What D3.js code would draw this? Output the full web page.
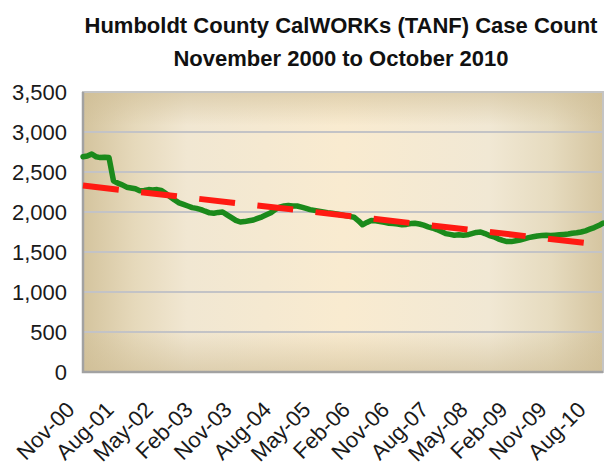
<!DOCTYPE html>
<html>
<head>
<meta charset="utf-8">
<script src="https://cdn.jsdelivr.net/npm/d3@7"></script>
<style>
  html, body { margin: 0; padding: 0; background: #ffffff; }
  svg { display: block; font-family: "Liberation Sans", Arial, sans-serif; }
</style>
</head>
<body>
<div id="chart"></div>
<script>
// Humboldt County CalWORKs (TANF) case count, monthly, Nov 2000 - Oct 2010

const titleLines = ["Humboldt County CalWORKs (TANF) Case Count", "November 2000 to October 2010"];

// x-axis labels (every 9th month)
const tickLabels = ["Nov-00", "Aug-01", "May-02", "Feb-03", "Nov-03", "Aug-04", "May-05",
    "Feb-06", "Nov-06", "Aug-07", "May-08", "Feb-09", "Nov-09", "Aug-10"];

// y-axis ticks
const yTicks = [0, 500, 1000, 1500, 2000, 2500, 3000, 3500];

// monthly case count (120 months)
const caseCount = [
    2690, 2700, 2725, 2690, 2680, 2685, 2680, 2390, 2360, 2340,   // Nov-00 ..
    2310, 2300, 2290, 2265, 2270, 2280, 2275, 2280, 2270, 2230,
    2190, 2150, 2115, 2095, 2075, 2055, 2045, 2030, 2010, 1990,
    1985, 1995, 2000, 1965, 1930, 1895, 1875, 1880, 1890, 1900,
    1920, 1940, 1965, 1990, 2030, 2060, 2075, 2080, 2075, 2075,
    2060, 2045, 2030, 2020, 2010, 2000, 1990, 1985, 1975, 1965,
    1955, 1945, 1935, 1890, 1840, 1870, 1895, 1890, 1880, 1870,
    1860, 1855, 1850, 1840, 1845, 1855, 1860, 1850, 1835, 1815,
    1800, 1780, 1755, 1730, 1720, 1710, 1715, 1710, 1715, 1730,
    1745, 1750, 1730, 1705, 1690, 1665, 1645, 1630, 1630, 1640,
    1650, 1665, 1680, 1690, 1700, 1705, 1710, 1705, 1710, 1715,
    1720, 1725, 1735, 1740, 1750, 1765, 1785, 1805, 1830, 1860    // .. Oct-10
];

// linear trend line, value at first and last month
const trendEnds = [2330, 1588];

const width = 604, height = 471;
const plot = { left: 83, right: 603, top: 92, bottom: 372 };

const months = d3.timeMonths(new Date(2000, 10, 1), new Date(2010, 10, 1));
const parseLabel = d3.timeParse("%b-%y");

const x = d3.scaleTime()
    .domain([months[0], months[months.length - 1]])
    .range([plot.left, plot.right]);

const y = d3.scaleLinear()
    .domain([0, 3500])
    .range([plot.bottom, plot.top]);

const svg = d3.select('#chart')
    .append('svg')
    .attr('width', width)
    .attr('height', height);

// gradients for the parchment-like plot area
const defs = svg.append('defs');
const hGrad = defs.append('linearGradient').attr('id', 'bgH')
    .attr('x1', '0%').attr('x2', '100%').attr('y1', '0%').attr('y2', '0%');
[[0, '#d4c49e'], [0.1, '#e6d9bb'], [0.2, '#f1e7d2'], [0.5, '#f9ebd0'],
 [0.78, '#f1e8d4'], [0.9, '#e6dbbf'], [1, '#d5c5a0']].forEach(s => {
    hGrad.append('stop').attr('offset', s[0]).attr('stop-color', s[1]);
});
const vGrad = defs.append('linearGradient').attr('id', 'bgV')
    .attr('x1', '0%').attr('x2', '0%').attr('y1', '0%').attr('y2', '100%');
[[0, 0.55], [0.12, 0], [0.85, 0], [1, 0.55]].forEach(s => {
    vGrad.append('stop').attr('offset', s[0])
        .attr('stop-color', '#cdbb92').attr('stop-opacity', s[1]);
});

svg.append('rect')
    .attr('x', plot.left).attr('y', plot.top)
    .attr('width', plot.right - plot.left).attr('height', plot.bottom - plot.top)
    .attr('fill', 'url(#bgH)');
svg.append('rect')
    .attr('x', plot.left).attr('y', plot.top)
    .attr('width', plot.right - plot.left).attr('height', plot.bottom - plot.top)
    .attr('fill', 'url(#bgV)');

// gridlines
svg.append('g')
    .selectAll('line')
    .data(yTicks.filter(d => d > 0 && d < 3500))
    .enter()
    .append('line')
    .attr('x1', plot.left).attr('x2', plot.right)
    .attr('y1', d => y(d)).attr('y2', d => y(d))
    .attr('stroke', '#c3c3c6')
    .attr('stroke-width', 2);

// plot frame
svg.append('rect')
    .attr('x', plot.left).attr('y', plot.top)
    .attr('width', plot.right - plot.left).attr('height', plot.bottom - plot.top)
    .attr('fill', 'none')
    .attr('stroke', '#c4c4c4')
    .attr('stroke-width', 2);
svg.append('path')
    .attr('d', `M${plot.left},${plot.top}V${plot.bottom}H${plot.right}`)
    .attr('fill', 'none')
    .attr('stroke', '#a2a2a2')
    .attr('stroke-width', 2.5);

// y axis labels
const yAxis = d3.axisLeft(y)
    .tickValues(yTicks)
    .tickFormat(d3.format(','))
    .tickSize(0)
    .tickPadding(16);
const yg = svg.append('g')
    .attr('transform', `translate(${plot.left},0)`)
    .call(yAxis);
yg.select('.domain').remove();
yg.selectAll('text')
    .attr('font-family', '"Liberation Sans", Arial, sans-serif')
    .attr('font-size', 22)
    .attr('fill', '#1a1a1a');

// x axis labels, rotated
svg.append('g')
    .selectAll('text')
    .data(tickLabels)
    .enter()
    .append('text')
    .attr('transform', d => `translate(${x(parseLabel(d)) - 7},411) rotate(-45)`)
    .attr('text-anchor', 'end')
    .attr('font-size', 22)
    .attr('fill', '#1a1a1a')
    .text(d => d);

// case count line
const line = d3.line()
    .x((d, i) => x(months[i]))
    .y(d => y(d));

svg.append('path')
    .datum(caseCount)
    .attr('d', line)
    .attr('fill', 'none')
    .attr('stroke', '#1b8a1b')
    .attr('stroke-width', 5.5)
    .attr('stroke-linejoin', 'round')
    .attr('stroke-linecap', 'round');

// trend line
const trendLine = d3.line()
    .x((d, i) => x(i === 0 ? months[0] : months[months.length - 1]))
    .y(d => y(d));

svg.append('path')
    .datum(trendEnds)
    .attr('d', trendLine)
    .attr('fill', 'none')
    .attr('stroke', '#ff1a12')
    .attr('stroke-width', 6)
    .attr('stroke-dasharray', '36,22.5');

// title
svg.append('g')
    .selectAll('text')
    .data(titleLines)
    .enter()
    .append('text')
    .attr('x', 341)
    .attr('y', (d, i) => 33 + i * 33)
    .attr('text-anchor', 'middle')
    .attr('font-size', 22)
    .attr('font-weight', 'bold')
    .attr('fill', '#111')
    .text(d => d);
</script>
</body>
</html>
